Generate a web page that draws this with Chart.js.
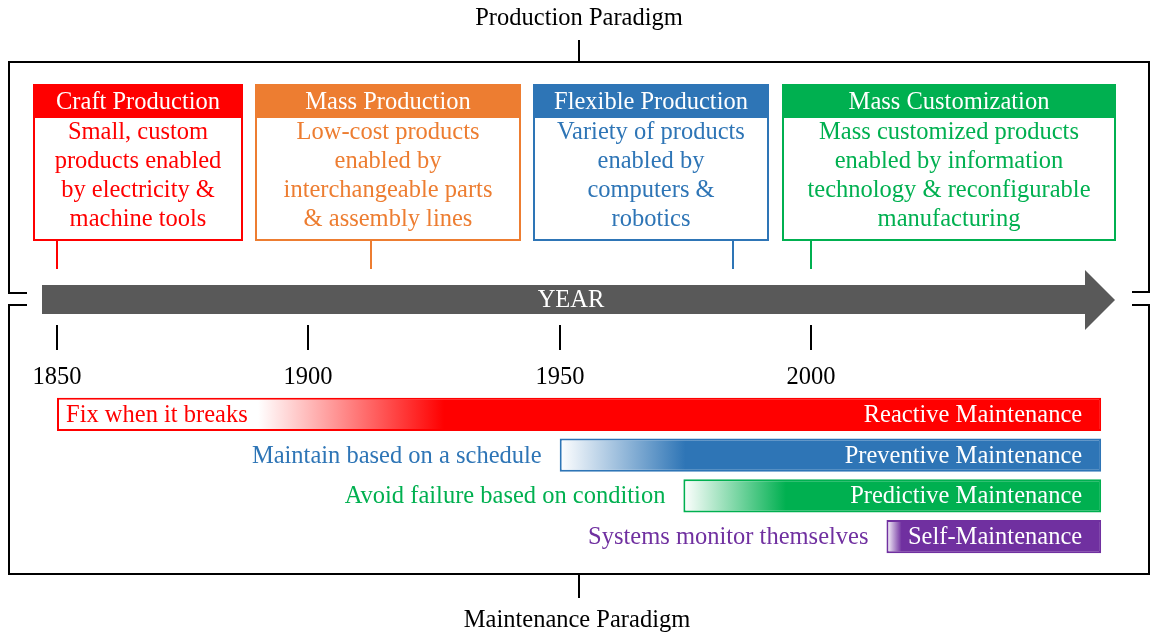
<!DOCTYPE html>
<html>
<head>
<meta charset="utf-8">
<script src="https://cdn.jsdelivr.net/npm/chart.js@4"></script>
<style>
  html, body { margin: 0; padding: 0; background: #fff; }
  canvas { display: block; }
</style>
</head>
<body>
<canvas id="timeline" width="1152" height="640"></canvas>
<script>
const tickYears = [1850, 1900, 1950, 2000];

const paradigmNames = ["Craft Production", "Mass Production", "Flexible Production", "Mass Customization"];
const paradigmText = [
  ["Small, custom", "products enabled", "by electricity &", "machine tools"],
  ["Low-cost products", "enabled by", "interchangeable parts", "& assembly lines"],
  ["Variety of products", "enabled by", "computers &", "robotics"],
  ["Mass customized products", "enabled by information", "technology & reconfigurable", "manufacturing"]
];
const paradigmYears = [1850, 1912.5, 1984.5, 2000];

const maintenanceNames = ["Reactive Maintenance", "Preventive Maintenance", "Predictive Maintenance", "Self-Maintenance"];
const maintenanceNotes = ["Fix when it breaks", "Maintain based on a schedule", "Avoid failure based on condition", "Systems monitor themselves"];
const maintenanceStart = [1850, 1950, 1974.6, 2015];
const maintenanceEnd = [2057.7, 2057.7, 2057.7, 2057.7];
const fadeFrom = [1890, 1950, 1974.6, 2015];
const fadeTo = [1927, 1975, 1995, 2018];

const paradigmColors = ["#FF0000", "#ED7D31", "#2E75B6", "#00B050"];
const maintenanceColors = ["#FF0000", "#2E75B6", "#00B050", "#7030A0"];
const boxX = [[34, 242], [256, 520], [534, 768], [783, 1115]];
const FONT = '24.5px "Liberation Serif"';

const diagram = {
  id: "diagram",
  beforeDatasetsDraw(chart) {
    const c = chart.ctx;
    const x = chart.scales.x;
    c.save();
    c.font = FONT;
    c.textAlign = "center";
    c.textBaseline = "middle";

    // paradigm titles and brackets
    c.fillStyle = "#000";
    c.fillText("Production Paradigm", 579, 19);
    c.fillText("Maintenance Paradigm", 577, 621);
    c.strokeStyle = "#000";
    c.lineWidth = 2;
    c.beginPath();
    c.moveTo(579, 40); c.lineTo(579, 62);
    c.moveTo(27, 293); c.lineTo(9, 293); c.lineTo(9, 62); c.lineTo(1149, 62); c.lineTo(1149, 292); c.lineTo(1132, 292);
    c.moveTo(27, 305); c.lineTo(9, 305); c.lineTo(9, 574); c.lineTo(1149, 574); c.lineTo(1149, 305); c.lineTo(1132, 305);
    c.moveTo(579, 574); c.lineTo(579, 598);
    c.stroke();

    // production boxes
    paradigmNames.forEach((name, i) => {
      const [x0, x1] = boxX[i];
      const col = paradigmColors[i];
      const cx = (x0 + x1) / 2;
      c.fillStyle = col;
      c.fillRect(x0, 85, x1 - x0, 33);
      c.strokeStyle = col;
      c.lineWidth = 2;
      c.strokeRect(x0, 85, x1 - x0, 155);
      c.fillStyle = "#fff";
      c.fillText(name, cx, 103);
      c.fillStyle = col;
      paradigmText[i].forEach((line, j) => c.fillText(line, cx, 133 + j * 29));
      const px = Math.round(x.getPixelForValue(paradigmYears[i]));
      c.beginPath();
      c.moveTo(px, 240);
      c.lineTo(px, 269);
      c.stroke();
    });

    // year arrow
    c.fillStyle = "#595959";
    c.beginPath();
    c.moveTo(42, 285); c.lineTo(1085, 285); c.lineTo(1085, 270); c.lineTo(1115, 300);
    c.lineTo(1085, 330); c.lineTo(1085, 314); c.lineTo(42, 314);
    c.closePath();
    c.fill();
    c.fillStyle = "#fff";
    c.fillText("YEAR", 571, 301);

    // year ticks
    c.strokeStyle = "#000";
    c.fillStyle = "#000";
    tickYears.forEach(year => {
      const px = Math.round(x.getPixelForValue(year));
      c.beginPath();
      c.moveTo(px, 325);
      c.lineTo(px, 350);
      c.stroke();
      c.fillText(String(year), px, 378);
    });
    c.restore();
  },
  afterDatasetsDraw(chart) {
    const c = chart.ctx;
    const bars = chart.getDatasetMeta(0).data;
    c.save();
    c.font = FONT;
    c.textBaseline = "middle";
    bars.forEach((bar, i) => {
      const left = Math.min(bar.x, bar.base);
      const right = Math.max(bar.x, bar.base);
      c.fillStyle = "#fff";
      c.textAlign = "right";
      c.fillText(maintenanceNames[i], right - 19, bar.y + 1);
      c.fillStyle = maintenanceColors[i];
      if (i === 0) {
        c.textAlign = "left";
        c.fillText(maintenanceNotes[i], left + 9, bar.y + 1);
      } else {
        c.textAlign = "right";
        c.fillText(maintenanceNotes[i], left - 18, bar.y + 1);
      }
    });
    c.restore();
  }
};

new Chart(document.getElementById("timeline"), {
  type: "bar",
  data: {
    labels: maintenanceNames,
    datasets: [{
      data: maintenanceStart.map((s, i) => [s, maintenanceEnd[i]]),
      backgroundColor: context => {
        const chart = context.chart;
        const i = context.dataIndex;
        const col = maintenanceColors[i];
        if (!chart.chartArea) return col;
        const x = chart.scales.x;
        const g = chart.ctx.createLinearGradient(x.getPixelForValue(fadeFrom[i]), 0, x.getPixelForValue(fadeTo[i]), 0);
        g.addColorStop(0, "#ffffff");
        g.addColorStop(1, col);
        return g;
      },
      borderColor: maintenanceColors,
      borderWidth: 2,
      borderSkipped: false,
      barPercentage: 0.81,
      categoryPercentage: 1
    }]
  },
  options: {
    indexAxis: "y",
    responsive: false,
    animation: false,
    layout: { padding: { top: 394, bottom: 83, left: 0, right: 0 } },
    scales: {
      x: { type: "linear", min: 1838.66, max: 2067.82, display: false },
      y: { display: false }
    },
    plugins: {
      legend: { display: false },
      tooltip: { enabled: false }
    }
  },
  plugins: [diagram]
});
</script>
</body>
</html>
